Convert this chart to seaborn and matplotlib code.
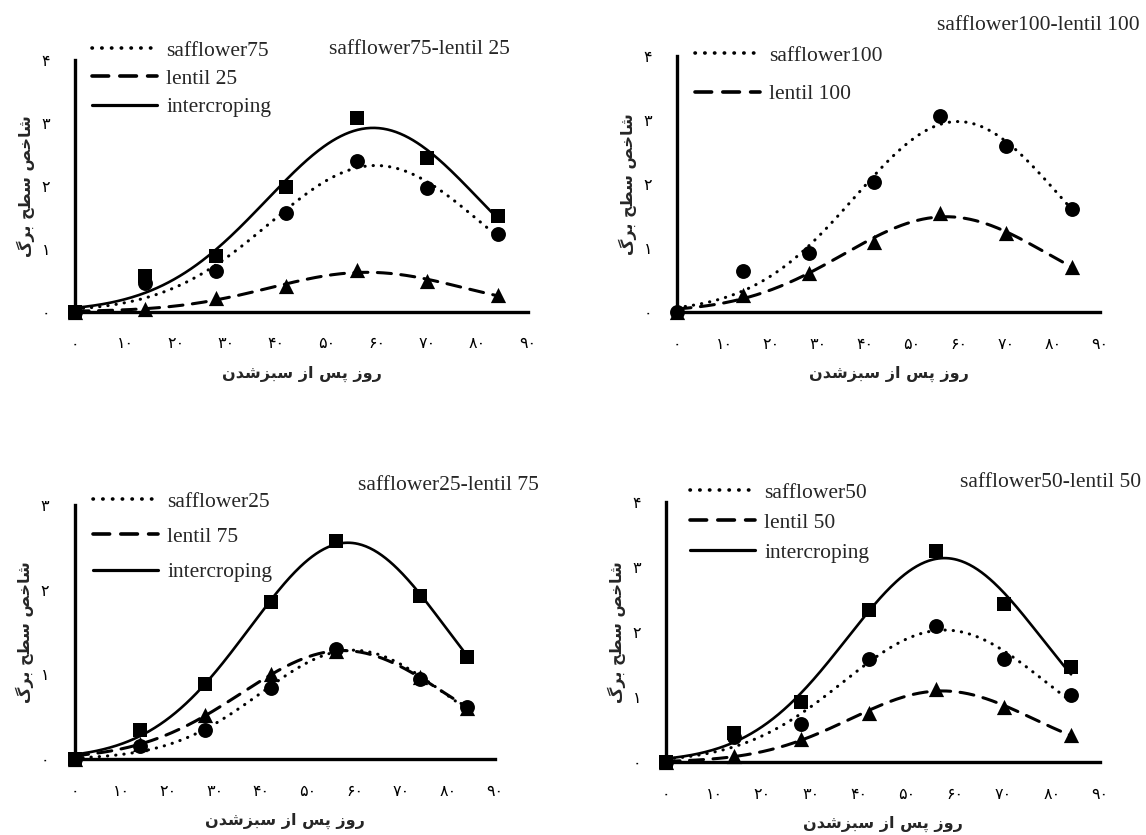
import numpy as np
import pandas as pd
import matplotlib
matplotlib.use("Agg")
import matplotlib.pyplot as plt
import seaborn as sns
from matplotlib.lines import Line2D

# ---------------- data ----------------
days = [0, 14, 28, 42, 56, 70, 84]
days_p3 = [0, 14, 28, 42, 56, 74, 84]

p1_saff = [0.0, 0.45, 0.64, 1.56, 2.40, 1.97, 1.24]
p1_lent = [0.0, 0.04, 0.21, 0.40, 0.66, 0.48, 0.27]
p1_inter = [0.0, 0.56, 0.89, 1.98, 3.07, 2.44, 1.52]

p2_saff = [0.0, 0.64, 0.92, 2.03, 3.07, 2.60, 1.61]
p2_lent = [0.0, 0.27, 0.61, 1.10, 1.55, 1.23, 0.70]

p3_saff = [0.0, 0.15, 0.34, 0.84, 1.30, 0.94, 0.61]
p3_lent = [0.0, 0.18, 0.52, 1.00, 1.27, 0.97, 0.60]
p3_inter = [0.0, 0.34, 0.88, 1.85, 2.57, 1.93, 1.21]

p4_saff = [0.0, 0.38, 0.58, 1.59, 2.09, 1.58, 1.03]
p4_lent = [0.0, 0.09, 0.36, 0.75, 1.13, 0.85, 0.41]
p4_inter = [0.0, 0.44, 0.93, 2.34, 3.24, 2.43, 1.46]

titles = ["safflower75-lentil 25", "safflower100-lentil 100",
          "safflower25-lentil 75", "safflower50-lentil 50"]
legend_labels = [["safflower75", "lentil 25", "intercroping"],
                 ["safflower100", "lentil 100"],
                 ["safflower25", "lentil 75", "intercroping"],
                 ["safflower50", "lentil 50", "intercroping"]]

x_ticks = [0, 10, 20, 30, 40, 50, 60, 70, 80, 90]
x_ticklabels = ["۰", "۱۰", "۲۰", "۳۰", "۴۰", "۵۰", "۶۰", "۷۰", "۸۰", "۹۰"]
y_ticklabels = ["۰", "۱", "۲", "۳", "۴"]

# Persian labels in shaped, visual order (matplotlib has no bidi/shaping)
xlabel_fa = "\ufee5\ufeaa\ufeb7\ufeb0\ufe92\ufeb3 \ufeaf\ufe8d \ufeb2\ufb58 \ufeaf\ufeed\ufead"
ylabel_fa = "\ufb92\ufeae\ufe91 \ufea2\ufec4\ufeb3 \ufeba\ufea7\ufe8e\ufeb7"


def gauss_fit(x, y, xs):
    """Least-squares 3-parameter Gaussian peak fit (grid search)."""
    x = np.asarray(x, float)
    y = np.asarray(y, float)
    mus = np.arange(35, 80, 0.25)
    sig = np.arange(8, 50, 0.2)
    M, S = np.meshgrid(mus, sig, indexing="ij")
    G = np.exp(-0.5 * ((x[None, None, :] - M[..., None]) / S[..., None]) ** 2)
    A = (G * y).sum(-1) / (G * G).sum(-1)
    sse = ((A[..., None] * G - y) ** 2).sum(-1)
    i = np.unravel_index(np.argmin(sse), sse.shape)
    return A[i] * np.exp(-0.5 * ((xs - M[i]) / S[i]) ** 2)


sns.set_theme(style="white")
plt.rcParams["font.family"] = ["Liberation Serif", "DejaVu Sans"]

fig = plt.figure(figsize=(11.46, 8.35), dpi=100)
W, H = 1146.0, 835.0


def px_axes(l, t, r, b):
    return fig.add_axes([l / W, 1 - b / H, (r - l) / W, (b - t) / H])


DOT = (0, (0.1, 2.6))
DASH = (0, (4.6, 3.1))
styles = {
    "saff": dict(ls=DOT, lw=2.2, marker="o", s=115),
    "lent": dict(ls=DASH, lw=2.2, marker="^", s=120),
    "inter": dict(ls="-", lw=1.9, marker="s", s=110),
}

panels = [
    dict(box=(75, 60, 528, 311.5), d=days,
         ser=[("saff", p1_saff), ("lent", p1_lent), ("inter", p1_inter)],
         ymax=4, title=titles[0], tpos=(510, 50), leg=(92, 48), lsp=0.38, labels=legend_labels[0]),
    dict(box=(677, 56, 1100, 312), d=days,
         ser=[("saff", p2_saff), ("lent", p2_lent)],
         ymax=4, title=titles[1], tpos=(1140, 25), leg=(695, 53), lsp=0.87, labels=legend_labels[1]),
    dict(box=(74.5, 505, 495, 759), d=days_p3,
         ser=[("saff", p3_saff), ("lent", p3_lent), ("inter", p3_inter)],
         ymax=3, title=titles[2], tpos=(539, 486), leg=(93, 499), lsp=0.71, labels=legend_labels[2]),
    dict(box=(666, 502, 1100, 762), d=days,
         ser=[("saff", p4_saff), ("lent", p4_lent), ("inter", p4_inter)],
         ymax=4, title=titles[3], tpos=(1141, 483), leg=(690, 490), lsp=0.47, labels=legend_labels[3]),
]

xs = np.linspace(0, 84, 300)
FS_TXT = 15.5

for p in panels:
    l, t, r, b = p["box"]
    ax = px_axes(l, t, r, b)
    # fitted curves
    for key, vals in p["ser"]:
        st = styles[key]
        fit = gauss_fit(p["d"], vals, xs)
        df = pd.DataFrame({"day": xs, "lai": fit})
        sns.lineplot(data=df, x="day", y="lai", ax=ax, color="black",
                     linestyle=st["ls"], lw=st["lw"], dash_capstyle="round",
                     clip_on=False, zorder=2)
    # markers
    for key in ["lent", "saff", "inter"]:
        for k2, vals in p["ser"]:
            if k2 != key:
                continue
            st = styles[key]
            df = pd.DataFrame({"day": p["d"], "lai": vals})
            sns.scatterplot(data=df, x="day", y="lai", ax=ax, color="black",
                            marker=st["marker"], s=st["s"], linewidth=0,
                            clip_on=False, zorder=3)
    ax.set_xlim(0, 90)
    ax.set_ylim(0, p["ymax"])
    ax.set_xticks(x_ticks)
    ax.set_xticklabels(x_ticklabels, family=["DejaVu Sans"], fontsize=11.5)
    ax.set_yticks(range(p["ymax"] + 1))
    ax.set_yticklabels(y_ticklabels[: p["ymax"] + 1], family=["DejaVu Sans"], fontsize=11.5)
    ax.tick_params(axis="x", direction="out", length=5, width=2.2, pad=13, colors="black")
    ax.tick_params(axis="y", direction="out", length=4, width=2.2, pad=14, colors="black")
    for s in ["top", "right"]:
        ax.spines[s].set_visible(False)
    for s in ["left", "bottom"]:
        ax.spines[s].set_linewidth(2.4)
        ax.spines[s].set_color("black")
    ax.set_xlabel(xlabel_fa, family=["DejaVu Sans"], fontweight="bold", fontsize=11.5)
    ax.set_ylabel(ylabel_fa, family=["DejaVu Sans"], fontweight="bold", fontsize=11.5)
    wpx, hpx = r - l, b - t
    ax.xaxis.set_label_coords(0.5, -54 / hpx)
    ax.yaxis.set_label_coords(-40 / wpx, 0.5)
    ax.grid(False)

    handles = []
    for key, _ in p["ser"]:
        st = styles[key]
        handles.append(Line2D([], [], color="black", linestyle=st["ls"], lw=st["lw"] + 0.4,
                              dash_capstyle="round"))
    ax.legend(handles, p["labels"], loc="upper left",
              bbox_to_anchor=(p["leg"][0] / W, 1 - (p["leg"][1] - 7.5) / H),
              bbox_transform=fig.transFigure, frameon=False, borderpad=0, borderaxespad=0,
              handlelength=3.0, handletextpad=0.45, labelspacing=p["lsp"],
              prop={"family": "Liberation Serif", "size": FS_TXT})

    fig.text(p["tpos"][0] / W, 1 - p["tpos"][1] / H, p["title"], ha="right", va="center",
             family="Liberation Serif", fontsize=FS_TXT)

fig.savefig("out.png", dpi=100, facecolor="white")
